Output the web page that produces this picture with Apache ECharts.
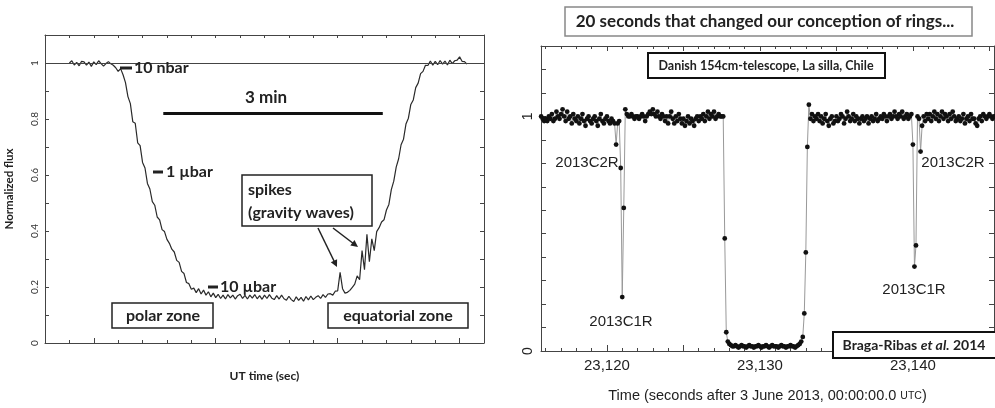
<!DOCTYPE html>
<html><head><meta charset="utf-8">
<script src="https://cdn.jsdelivr.net/npm/echarts@6/dist/echarts.min.js"></script>
<style>html,body{margin:0;padding:0;background:#fff}#c{width:995px;height:408px}</style>
</head><body><div id="c"></div>
<script>
// ---------- Left panel: occultation light curve (normalized flux vs UT time) ----------
const leftStart = 80, leftStep = 2; // seconds
const leftFlux = [
  1.000,1.008,0.993,1.002,0.990,1.006,1.004,0.992,1.003,0.988,
  1.004,0.994,1.008,0.998,0.989,0.998,1.005,0.997,0.992,
  0.983,0.970,0.980,0.958,0.930,0.880,0.855,0.790,0.785,0.715,
  0.705,0.645,0.625,0.570,0.550,0.505,0.492,0.450,0.440,0.405,
  0.398,0.370,0.356,0.335,0.325,0.295,0.288,0.256,0.248,0.216,
  0.212,0.192,0.196,0.180,0.194,0.175,0.189,0.171,0.183,0.165,
  0.178,0.162,0.174,0.159,0.171,0.157,0.173,0.161,0.171,0.157,
  0.169,0.174,0.159,0.170,0.157,0.171,0.160,0.173,0.158,0.169,
  0.156,0.171,0.159,0.173,0.160,0.155,0.169,0.157,0.171,0.158,
  0.153,0.167,0.155,0.148,0.165,0.152,0.163,0.149,0.166,0.154,
  0.168,0.155,0.163,0.169,0.159,0.173,0.163,0.175,0.176,0.171,
  0.185,0.186,0.252,0.194,0.178,0.181,0.188,0.199,0.210,0.240,
  0.226,0.330,0.262,0.388,0.290,0.372,0.330,0.398,0.412,0.432,
  0.440,0.475,0.495,0.548,0.578,0.628,0.658,0.708,0.728,0.782,
  0.803,0.852,0.868,0.912,0.928,0.962,0.970,0.992,0.991,1.007,
  0.992,1.006,0.994,1.009,0.996,1.007,0.993,1.010,0.998,1.008,
  1.010,1.022,1.006,1.005,0.996
];
const threeMinBar = [[157, 0.82], [337, 0.82]];
const leftMajorTicks = [100, 200, 300, 400];
const leftMinorTicks = [80,100,120,140,160,180,200,220,240,260,280,300,320,340,360,380,400];
const leftYTicks = [0,0.1,0.2,0.3,0.4,0.5,0.6,0.7,0.8,0.9,1.0];
const leftYLabels = [0,0.2,0.4,0.6,0.8,1];

// ---------- Right panel: Chariklo occultation, Danish telescope (10 Hz) ----------
const rightStartTenths = 231157, rightStepTenths = 1; // 23115.7 s, 0.1 s cadence
const rightFlux = [
  1.00,0.99,0.98,
  0.99,0.98,1.00,0.99,1.01,0.98,0.99,1.02,1.00,0.99,
  1.01,1.03,1.00,0.98,1.02,0.99,1.00,0.97,1.01,0.99,
  0.98,1.00,0.97,0.99,1.01,0.98,0.96,0.99,1.00,0.98,
  0.97,0.99,1.00,0.98,0.96,0.99,1.01,0.98,0.97,0.99,
  1.00,0.98,0.97,0.99,0.98,0.97,0.88,0.97,0.98,0.78,
  0.23,0.61,1.03,1.01,1.00,1.00,1.01,1.00,0.99,1.00,
  1.00,0.99,1.00,1.01,1.00,0.98,1.00,1.01,1.02,1.01,
  1.03,1.01,1.00,1.02,1.00,0.99,1.01,1.00,0.98,1.00,
  0.97,1.00,1.02,0.99,0.97,1.00,0.98,1.01,0.99,0.97,
  0.99,0.96,0.98,1.00,0.97,0.99,0.98,0.96,0.99,1.00,
  0.98,1.00,0.99,1.01,0.98,1.00,1.02,0.99,1.01,1.00,
  1.02,0.99,1.00,1.01,1.00,1.00,1.00,0.48,0.08,0.04,
  0.03,0.025,0.02,0.02,0.025,0.02,0.015,0.02,0.025,0.02,
  0.02,0.015,0.02,0.025,0.02,0.02,0.015,0.02,0.02,0.025,
  0.02,0.015,0.02,0.02,0.025,0.02,0.015,0.02,0.025,0.02,
  0.02,0.02,0.015,0.02,0.025,0.02,0.02,0.015,0.02,0.02,
  0.025,0.02,0.02,0.015,0.02,0.025,0.03,0.04,0.06,0.16,
  0.42,0.87,1.05,0.99,1.01,0.98,1.00,0.99,1.01,0.98,
  1.00,0.97,0.99,1.01,0.98,0.96,0.99,1.00,0.97,0.98,
  1.00,0.98,0.99,1.01,1.00,0.97,0.99,1.02,1.00,0.98,
  0.99,1.01,0.98,1.00,0.99,0.97,0.99,1.00,0.98,0.99,
  1.00,0.97,0.99,1.00,0.98,0.99,1.01,0.98,0.99,1.00,
  0.99,1.01,1.00,0.98,1.00,1.01,0.99,1.00,1.02,1.00,
  0.99,1.01,1.00,1.02,0.99,1.00,1.01,0.99,1.00,1.01,
  0.88,0.36,0.45,1.00,0.99,0.85,0.96,1.00,0.98,1.01,
  0.99,1.01,0.98,1.00,1.02,0.99,1.01,0.98,1.00,1.02,
  0.99,1.01,1.00,0.98,1.01,0.99,1.02,1.00,0.98,0.99,
  1.00,0.98,0.99,1.01,0.97,0.99,1.00,0.98,1.01,0.99,
  0.99,0.97,0.96,0.99,1.00,0.98,1.01,1.00,0.99,1.00,
  1.01,1.00,0.99,1.00
];
const rightXMin = 23115.69, rightXMax = 23145.3;
const rightMajorTicks = [23120,23125,23130,23135,23140,23145];
const rightLabelTicks = [23120,23130,23140];
const rightMinorTicks = [23116,23117,23118,23119,23120,23121,23122,23123,23124,23125,23126,23127,23128,23129,23130,23131,23132,23133,23134,23135,23136,23137,23138,23139,23140,23141,23142,23143,23144,23145];
const rightYTicks = [0,0.1,0.2,0.3,0.4,0.5,0.6,0.7,0.8,0.9,1.0,1.1,1.2];
const rightYLabels = [0,1];

// ---------- build ----------
const leftData = leftFlux.map((v,i)=>[leftStart + i*leftStep, v]);
const rightData = rightFlux.map((v,i)=>[(rightStartTenths + i*rightStepTenths)/10, v]);

const AX = '#444';
const calib = 'Lato, "Open Sans", sans-serif';
const helv = '"Liberation Sans", Arial, sans-serif';

function xAx(grid, min, max, pos, ticks, len, extra) {
  return Object.assign({
    type:'value', gridIndex:grid, min:min, max:max, position:pos,
    axisLine:{show:true, onZero:false, lineStyle:{color:AX, width:1}},
    axisTick:{show:true, inside:true, length:len, customValues:ticks, lineStyle:{color:AX}},
    axisLabel:{show:false}, splitLine:{show:false}
  }, extra||{});
}
function yAx(grid, min, max, pos, ticks, len, extra) {
  return Object.assign({
    type:'value', gridIndex:grid, min:min, max:max, position:pos,
    axisLine:{show:true, onZero:false, lineStyle:{color:AX, width:1}},
    axisTick:{show:true, inside:true, length:len, customValues:ticks, lineStyle:{color:AX}},
    axisLabel:{show:false}, splitLine:{show:false}
  }, extra||{});
}
const fmtComma = v => String(Math.round(v)).replace(/\B(?=(\d{3})+(?!\d))/g, ',');

const option = {
  backgroundColor:'#fff',
  animation:false,
  grid:[
    {left:45, top:35, width:439, height:308},
    {left:541, top:46, width:453, height:318}
  ],
  xAxis:[
    xAx(0, 60, 420, 'bottom', leftMajorTicks, 5, {
      name:'UT time (sec)', nameLocation:'middle', nameGap:27,
      nameTextStyle:{fontFamily:calib, fontWeight:'bold', fontSize:12, color:'#222'}
    }),
    xAx(0, 60, 420, 'bottom', leftMinorTicks, 3, {axisLine:{show:false, onZero:false}}),
    xAx(0, 60, 420, 'top', leftMinorTicks, 3),
    xAx(1, rightXMin, rightXMax, 'bottom', rightMajorTicks, 6, {
      axisLabel:{show:true, customValues:rightLabelTicks, formatter:fmtComma, margin:7,
        fontFamily:helv, fontSize:15, color:'#222'},
      name:'{a|Time (seconds after 3 June 2013, 00:00:00.0 }{b|UTC}{a|)}',
      nameLocation:'middle', nameGap:37,
      nameTextStyle:{rich:{
        a:{fontFamily:helv, fontSize:14.5, color:'#222', verticalAlign:'bottom'},
        b:{fontFamily:helv, fontSize:10.5, color:'#222', verticalAlign:'bottom', padding:[0,0,1,0]}
      }}
    }),
    xAx(1, rightXMin, rightXMax, 'bottom', rightMinorTicks, 3, {axisLine:{show:false, onZero:false}}),
    xAx(1, rightXMin, rightXMax, 'top', rightMinorTicks, 3),
    xAx(1, rightXMin, rightXMax, 'top', rightMajorTicks, 5, {axisLine:{show:false, onZero:false}})
  ],
  yAxis:[
    yAx(0, 0, 1.1, 'left', leftYTicks, 4, {
      axisLabel:{show:true, customValues:leftYLabels, rotate:90, margin:5,
        fontFamily:calib, fontSize:10, color:'#333'},
      name:'Normalized flux', nameLocation:'middle', nameGap:30,
      nameTextStyle:{fontFamily:calib, fontWeight:'bold', fontSize:11.5, color:'#222'}
    }),
    yAx(0, 0, 1.1, 'right', leftYTicks, 4),
    yAx(1, 0, 1.3, 'left', rightYTicks, 5, {
      axisLabel:{show:true, customValues:rightYLabels, rotate:90, margin:6,
        fontFamily:helv, fontSize:14, color:'#222'}
    }),
    yAx(1, 0, 1.3, 'right', rightYTicks, 5)
  ],
  series:[
    {
      type:'line', xAxisIndex:0, yAxisIndex:0, data:leftData,
      showSymbol:false, symbol:'none', lineStyle:{color:'#2a2a2a', width:1.2},
      markLine:{silent:true, symbol:'none', label:{show:false},
        lineStyle:{color:'#444', width:1, type:'solid'}, data:[{yAxis:1}]}
    },
    {
      type:'line', xAxisIndex:0, yAxisIndex:0, data:threeMinBar,
      showSymbol:false, symbol:'none', lineStyle:{color:'#111', width:3}
    },
    {
      type:'line', xAxisIndex:3, yAxisIndex:2, data:rightData,
      symbol:'circle', symbolSize:4.8, showSymbol:true,
      itemStyle:{color:'#111'}, lineStyle:{color:'#999', width:1}
    }
  ],
  graphic:[
    // left panel annotations
    {type:'rect', z:100, shape:{x:120,y:66.5,width:12,height:3}, style:{fill:'#222'}},
    {type:'text', z:100, x:134, y:68, style:{text:'10 nbar', font:'bold 16px '+calib, fill:'#222', align:'left', verticalAlign:'middle'}},
    {type:'rect', z:100, shape:{x:153,y:170.5,width:10,height:3}, style:{fill:'#222'}},
    {type:'text', z:100, x:166, y:172, style:{text:'1 µbar', font:'bold 16px '+calib, fill:'#222', align:'left', verticalAlign:'middle'}},
    {type:'rect', z:100, shape:{x:208,y:285.5,width:10,height:3}, style:{fill:'#222'}},
    {type:'text', z:100, x:220, y:287, style:{text:'10 µbar', font:'bold 16px '+calib, fill:'#222', align:'left', verticalAlign:'middle'}},
    {type:'text', z:100, x:266, y:98, style:{text:'3 min', font:'bold 17px '+calib, fill:'#222', align:'center', verticalAlign:'middle'}},
    {type:'rect', z:100, shape:{x:242,y:175,width:130,height:51}, style:{fill:'#fff', stroke:'#222', lineWidth:1.5}},
    {type:'text', z:101, x:248, y:190, style:{text:'spikes', font:'bold 16px '+calib, fill:'#222', align:'left', verticalAlign:'middle'}},
    {type:'text', z:101, x:248, y:213, style:{text:'(gravity waves)', font:'bold 16px '+calib, fill:'#222', align:'left', verticalAlign:'middle'}},
    {type:'line', z:100, shape:{x1:318,y1:228,x2:335,y2:263}, style:{stroke:'#222', lineWidth:1.5}},
    {type:'polygon', z:100, shape:{points:[[337,267],[330.8,262.2],[337.1,259.2]]}, style:{fill:'#222'}},
    {type:'line', z:100, shape:{x1:333,y1:228,x2:354,y2:244}, style:{stroke:'#222', lineWidth:1.5}},
    {type:'polygon', z:100, shape:{points:[[358,247],[350.3,245.6],[354.5,240.0]]}, style:{fill:'#222'}},
    {type:'rect', z:100, shape:{x:112,y:303,width:101,height:25}, style:{fill:'#fff', stroke:'#222', lineWidth:1.5}},
    {type:'text', z:101, x:163, y:316, style:{text:'polar zone', font:'bold 16px '+calib, fill:'#222', align:'center', verticalAlign:'middle'}},
    {type:'rect', z:100, shape:{x:328,y:303,width:140,height:25}, style:{fill:'#fff', stroke:'#222', lineWidth:1.5}},
    {type:'text', z:101, x:398, y:316, style:{text:'equatorial zone', font:'bold 16px '+calib, fill:'#222', align:'center', verticalAlign:'middle'}},
    // right panel annotations
    {type:'rect', z:100, shape:{x:565,y:7,width:407,height:29}, style:{fill:'#fff', stroke:'#888', lineWidth:1.5}},
    {type:'text', z:101, x:765, y:22, style:{text:'20 seconds that changed our conception of rings...', font:'bold 17px '+calib, fill:'#222', align:'center', verticalAlign:'middle'}},
    {type:'rect', z:100, shape:{x:648,y:53,width:237,height:25}, style:{fill:'#fff', stroke:'#111', lineWidth:2}},
    {type:'text', z:101, x:766, y:66, style:{text:'Danish 154cm-telescope, La silla, Chile', font:'bold 12.5px '+calib, fill:'#222', align:'center', verticalAlign:'middle'}},
    {type:'rect', z:100, shape:{x:833,y:332,width:170,height:26}, style:{fill:'#fff', stroke:'#111', lineWidth:2}},
    {type:'text', z:101, x:914, y:345, style:{
      text:'{a|Braga-Ribas }{b|et al.}{a| 2014}', align:'center', verticalAlign:'middle',
      rich:{a:{font:'bold 14px '+calib, fill:'#222'}, b:{font:'italic bold 14px '+calib, fill:'#222'}}}},
    {type:'text', z:101, x:587, y:163, style:{text:'2013C2R', font:'15px '+helv, fill:'#222', align:'center', verticalAlign:'middle'}},
    {type:'text', z:101, x:621, y:322, style:{text:'2013C1R', font:'15px '+helv, fill:'#222', align:'center', verticalAlign:'middle'}},
    {type:'text', z:101, x:953, y:163, style:{text:'2013C2R', font:'15px '+helv, fill:'#222', align:'center', verticalAlign:'middle'}},
    {type:'text', z:101, x:914, y:290, style:{text:'2013C1R', font:'15px '+helv, fill:'#222', align:'center', verticalAlign:'middle'}}
  ]
};
const chart = echarts.init(document.getElementById('c'), null, {renderer:'canvas'});
chart.setOption(option);
</script>
</body></html>
